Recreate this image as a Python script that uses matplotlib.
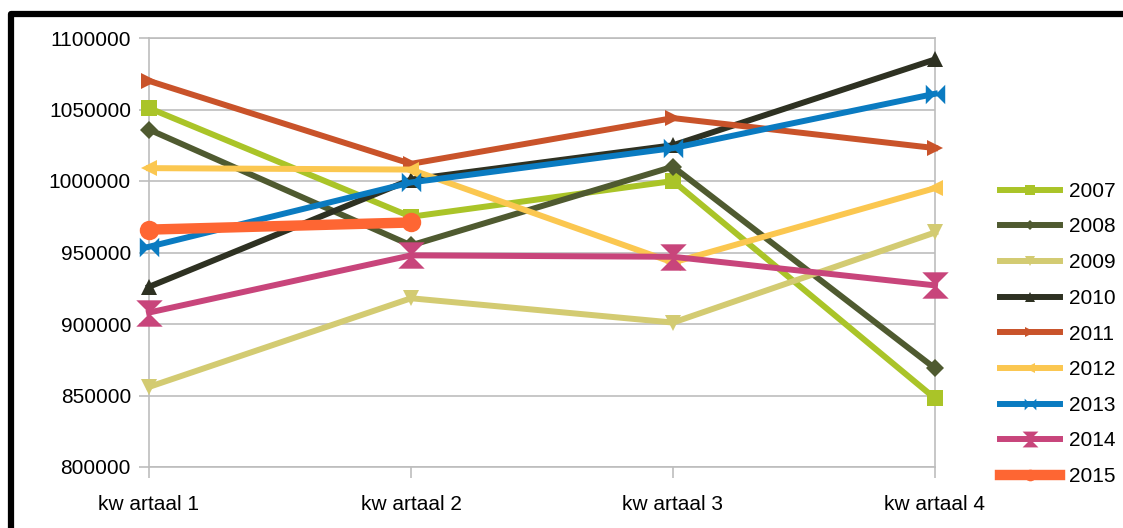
import matplotlib.pyplot as plt
from matplotlib.patches import Rectangle

plt.rcParams['font.family'] = ['Liberation Sans', 'DejaVu Sans']

# kwartaalcijfers per jaar
kwartalen = ["kw artaal 1", "kw artaal 2", "kw artaal 3", "kw artaal 4"]
jaren = ["2007", "2008", "2009", "2010", "2011", "2012", "2013", "2014", "2015"]
v2007 = [1051000, 975000, 1000000, 848000]
v2008 = [1036000, 955000, 1010000, 869000]
v2009 = [856000, 918000, 901000, 964000]
v2010 = [926000, 1001000, 1025000, 1085000]
v2011 = [1070000, 1012000, 1044000, 1023000]
v2012 = [1009000, 1008000, 943000, 995000]
v2013 = [954000, 999000, 1023000, 1061000]
v2014 = [908000, 948000, 947000, 927000]
v2015 = [966000, 971000]
waarden = [v2007, v2008, v2009, v2010, v2011, v2012, v2013, v2014, v2015]

kleuren = ["#aac428", "#4f5a30", "#d3cb72", "#2e3122", "#c9532a",
           "#fbc750", "#0a7bc1", "#c8457b", "#fe6633"]
bowtie = [(-1, -1), (1, 1), (1, -1), (-1, 1), (-1, -1)]
hourglass = [(-1, 1), (1, 1), (-1, -1), (1, -1), (-1, 1)]
markers = ["s", "D", "v", "^", ">", "<", bowtie, hourglass, "o"]
msizes = [12, 9, 12, 12, 12, 12, 14, 19, 14]
lws = [4.3, 4.3, 4.3, 4.3, 4.3, 4.3, 4.3, 4.3, 7.5]

fig = plt.figure(figsize=(11.23, 5.28), dpi=100)
ax = fig.add_axes([149 / 1123, 1 - 467 / 528, (935 - 149) / 1123, (467 - 38) / 528])

for i in range(len(jaren)):
    ax.plot(range(len(waarden[i])), waarden[i], color=kleuren[i], lw=lws[i],
            marker=markers[i], markersize=msizes[i], markeredgewidth=0,
            label=jaren[i], clip_on=False, zorder=3 + i)

grijs = "#bdbdbd"
ax.set_xlim(0, 3)
ax.set_ylim(800000, 1100000)
ax.set_yticks(range(800000, 1100001, 50000))
ax.ticklabel_format(axis="y", style="plain", useOffset=False)
ax.set_xticks(range(4))
ax.set_xticklabels(kwartalen)
ax.grid(axis="y", color=grijs, lw=1.2)
for s in ax.spines.values():
    s.set_color(grijs)
    s.set_linewidth(1.2)
ax.tick_params(axis="y", colors=grijs, length=7, width=1.2, labelsize=15,
               labelcolor="black", pad=6)
ax.tick_params(axis="x", colors=grijs, length=8, width=1.2, labelsize=15,
               labelcolor="black", pad=12)

ax.legend(loc="center left", bbox_to_anchor=(1000 / 1123, 1 - 334 / 528),
          bbox_transform=fig.transFigure, frameon=False, fontsize=15,
          handlelength=2.9, handletextpad=0.4, labelspacing=0.8,
          markerscale=0.6, borderaxespad=0, borderpad=0)

# zwarte rand rondom
fig.patches.append(Rectangle((11 / 1123, -0.2), 1.2, 1.2 - 14 / 528,
                             transform=fig.transFigure, fill=False,
                             edgecolor="black", lw=4.5, joinstyle="round"))

fig.savefig("out.png", dpi=100)
